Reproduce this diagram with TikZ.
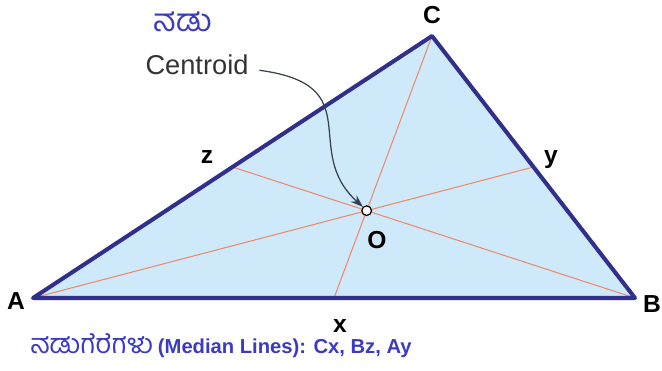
\documentclass[tikz,border=0pt]{standalone}
\usepackage{fontspec}
\setmainfont{Liberation Sans}
\newfontfamily\kanfont[Script=Kannada]{Hind Mysuru}
\usetikzlibrary{arrows.meta,calc}
\definecolor{edgeblue}{RGB}{48,48,140}
\definecolor{skyfill}{RGB}{206,233,250}
\definecolor{salmon}{RGB}{238,138,108}
\definecolor{inkblue}{RGB}{58,58,196}
\definecolor{slate}{RGB}{55,65,78}

\begin{document}
\begin{tikzpicture}[x=0.02cm,y=-0.02cm,
    vlabel/.style={font=\fontsize{14}{15}\selectfont\bfseries,text=black,inner sep=0pt},
    median/.style={salmon,line width=0.6pt}]
  \useasboundingbox (0,0) rectangle (662,371);
  % vertices, midpoints and centroid
  \coordinate (A) at (33,298);
  \coordinate (B) at (635,298);
  \coordinate (C) at (432,36);
  \coordinate (x) at ($(A)!0.5!(B)$);
  \coordinate (y) at ($(B)!0.5!(C)$);
  \coordinate (z) at ($(A)!0.5!(C)$);
  \coordinate (O) at ($1/3*(A)+1/3*(B)+1/3*(C)$);
  \fill[skyfill] (A) -- (B) -- (C) -- cycle;
  \foreach \p/\q in {C/x,B/z,A/y}{
    \draw[median] (\p) -- (\q);
  }
  \draw[edgeblue,line width=2.3pt,line join=round] (A) -- (B) -- (C) -- cycle;
  \node[draw=black,fill=white,circle,inner sep=0pt,minimum size=5.5pt,line width=0.7pt] (dot) at (O) {};
  % labels
  \node[vlabel] (lA) at (16,301) {A};
  \node[vlabel] (lB) at (652,304) {B};
  \node[vlabel] (lC) at (432,15) {C};
  \node[vlabel] (lx) at (340,326) {x};
  \node[vlabel] (ly) at (551,160) {y};
  \node[vlabel] (lz) at (207,157) {z};
  \node[vlabel] (lO) at (377,240) {O};
  \node[text=inkblue,font=\kanfont\fontsize{18}{19}\selectfont,inner sep=0pt] (nadu) at (183,22) {ನಡು};
  \node[text=black!80,font=\fontsize{15.5}{17}\selectfont,inner sep=0pt] (cent) at (197,65) {Centroid};
  \draw[-{Stealth[length=7pt,width=5pt]},slate,line width=0.7pt]
    ([xshift=6pt,yshift=-3pt]cent.east) .. controls (370,85) and (300,150) .. (dot.north west);
  \node[anchor=west,text=inkblue,inner sep=0pt] (caption) at (30,346)
    {{\kanfont\fontsize{15.5}{17}\selectfont ನಡುಗೆರೆಗಳು} {\fontsize{11.5}{13}\selectfont\bfseries (Median Lines): Cx, Bz, Ay}};
\end{tikzpicture}
\end{document}
